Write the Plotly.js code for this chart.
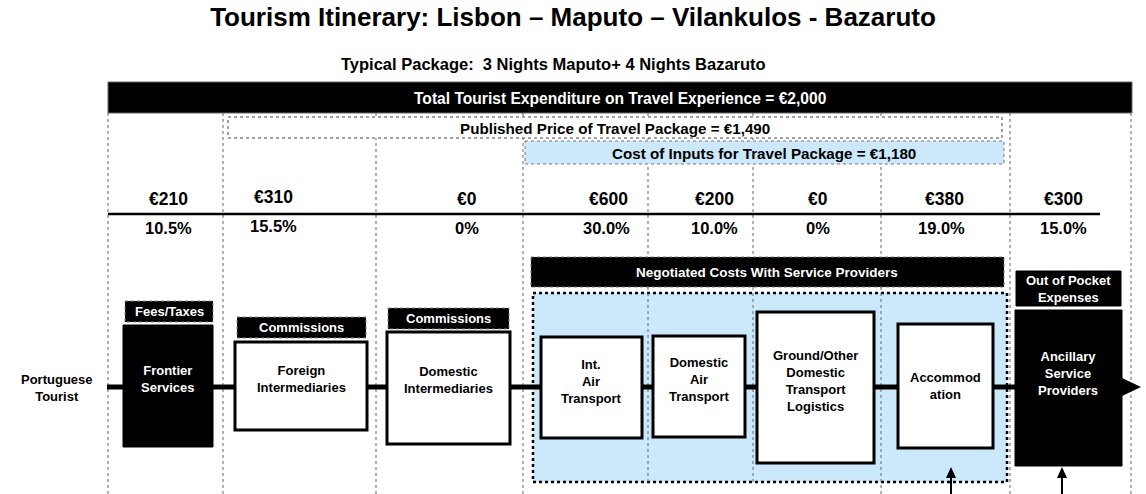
<!DOCTYPE html>
<html>
<head>
<meta charset="utf-8">
<script src="https://cdn.plot.ly/plotly-3.0.1.min.js"></script>
<style>html,body{margin:0;padding:0;background:#fff;}#chart{width:1146px;height:494px;}</style>
</head>
<body>
<div id="chart"></div>
<script>
// ---------------- DATA ----------------
const chartTitle = 'Tourism Itinerary: Lisbon \u2013 Maputo \u2013 Vilankulos - Bazaruto';
const subTitle = 'Typical Package:  3 Nights Maputo+ 4 Nights Bazaruto';
const origin = 'Portuguese<br>Tourist';
const stages = ['Frontier<br>Services', 'Foreign<br>Intermediaries', 'Domestic<br>Intermediaries',
  'Int.<br>Air<br>Transport', 'Domestic<br>Air<br>Transport',
  'Ground/Other<br>Domestic<br>Transport<br>Logistics', 'Accommod<br>ation',
  'Ancillary<br>Service<br>Providers'];
const amounts = [210, 310, 0, 600, 200, 0, 380, 300];
const shares = ['10.5%', '15.5%', '0%', '30.0%', '10.0%', '0%', '19.0%', '15.0%'];
const costTypes = ['Fees/Taxes', 'Commissions', 'Commissions', 'Out of Pocket<br>Expenses'];
const negotiatedLabel = 'Negotiated Costs With Service Providers';
const totalExpenditure = 2000;
const publishedPrice = 1490;
const inputCost = 1180;

// ---------------- LAYOUT GEOMETRY (pixels) ----------------
const W = 1146, H = 494;
const FONT = 'Liberation Sans, Arial, Helvetica, sans-serif';
const fmt = v => '\u20ac' + v.toLocaleString('en-US');

// stage boxes: x0,y0,x1,y1, dark?
const boxGeo = [
  [123, 325, 213, 447, true],
  [235, 342, 367, 430, false],
  [387, 332, 510, 444, false],
  [541, 337, 642, 438, false],
  [653, 336, 745, 437, false],
  [757, 312, 874, 463, false],
  [898, 324, 993, 448, false],
  [1015, 310, 1122, 466, true]
];
const boxTextY = [379, 379, 380, 381, 379, 381, 386, 373];
const boxTextX = [168, 301, 448, 591, 699, 815, 945, 1068];
const valueX = [168, 273, 467, 608, 714, 818, 944, 1063];
const valueY = [199, 197, 199, 199, 199, 199, 199, 199];
const shareX = [168, 273, 467, 606, 714, 818, 941, 1063];
const shareY = [228, 226, 228, 228, 228, 228, 228, 228];
// cost type label boxes (x0,y0,x1,y1)
const costGeo = [
  [125, 301, 213, 322],
  [237, 317, 366, 338],
  [388, 308, 509, 329],
  [1016, 271, 1121, 306]
];
const verticals = [[108,113,494],[223,113,494],[376,113,494],[523,113,494],[648,113,482],[753,113,482],[881,113,494],[1010,113,494],[1131,113,494]];

const shapes = [];
function rect(x0, y0, x1, y1, fill, lc, lw, dash) {
  shapes.push({type: 'rect', xref: 'x', yref: 'y', x0, y0, x1, y1,
    fillcolor: fill, line: {color: lc, width: lw, dash: dash || 'solid'}, layer: 'above'});
}
function line(x0, y0, x1, y1, c, w, dash) {
  shapes.push({type: 'line', xref: 'x', yref: 'y', x0, y0, x1, y1,
    line: {color: c, width: w, dash: dash || 'solid'}, layer: 'above'});
}
function path(p, fill) {
  shapes.push({type: 'path', xref: 'x', yref: 'y', path: p, fillcolor: fill, line: {color: fill, width: 0}, layer: 'above'});
}

// blue negotiated region
rect(533, 293, 1007, 482, '#cce9fb', '#000', 2.5, 'dot');
// verticals
verticals.forEach(v => line(v[0], v[1], v[0], v[2], '#666', 1, 'dot'));
// top black bar
rect(108, 82, 1132, 113, '#000', '#666', 1);
// published price box
rect(228, 117, 1002, 138, '#fff', '#444', 1, 'dot');
// cost of inputs box
rect(525, 141, 1004, 164, '#cce9fb', '#777', 1, 'dot');
// divider under values
line(108, 214, 1100, 214, '#000', 2.5);
// negotiated bar
rect(531, 257, 1004, 287, '#000', '#777', 1, 'dot');
// flow line + arrow
line(107, 387, 1124, 387, '#000', 5);
path('M 1122 378 L 1141 387 L 1122 396 Z', '#000');
// stage boxes
boxGeo.forEach(b => {
  if (b[4]) rect(b[0], b[1], b[2], b[3], '#000', '#000', 1);
  else rect(b[0], b[1], b[2], b[3], '#fff', '#000', 3);
});
// cost type labels
costGeo.forEach((c, i) => rect(c[0], c[1], c[2], c[3], '#000', i < 3 ? '#888' : '#000', 1, i < 3 ? 'dot' : 'solid'));
// upward arrows
[951, 1062].forEach(x => {
  line(x, 494, x, 476, '#000', 2);
  path(`M ${x-5} 478 L ${x} 467 L ${x+5} 478 Z`, '#000');
});

const ann = [];
function txt(x, y, text, size, color, xanchor) {
  ann.push({x, y, xref: 'x', yref: 'y', text, showarrow: false,
    xanchor: xanchor || 'center', yanchor: 'middle', align: 'center',
    font: {family: FONT, size, color: color || '#000', weight: 'bold'}});
}
txt(553, 64, subTitle, 16.5);
txt(620, 98, 'Total Tourist Expenditure on Travel Experience = ' + fmt(totalExpenditure), 15.6, '#fff');
txt(615, 128, 'Published Price of Travel Package = ' + fmt(publishedPrice), 15.2);
txt(764, 153, 'Cost of Inputs for Travel Package = ' + fmt(inputCost), 15.2);
amounts.forEach((a, i) => txt(valueX[i], valueY[i], fmt(a), 17.5));
shares.forEach((s, i) => txt(shareX[i], shareY[i], s, 16.5));
txt(57, 388, origin, 13);
stages.forEach((s, i) => txt(boxTextX[i], boxTextY[i], s, 13, boxGeo[i][4] ? '#fff' : '#000'));
const costTextPos = [[169, 311.5], [301, 327.5], [448, 318.5], [1068, 288.5]];
costTypes.forEach((c, i) => txt(costTextPos[i][0], costTextPos[i][1], c, 13, '#fff'));
txt(767, 272, negotiatedLabel, 13.5, '#fff');

const layout = {
  width: W, height: H,
  margin: {l: 0, r: 0, t: 0, b: 0, pad: 0},
  paper_bgcolor: '#fff', plot_bgcolor: '#fff',
  showlegend: false,
  title: {text: chartTitle, x: 0.5, xanchor: 'center', xref: 'paper', y: 1 - 17 / H, yref: 'container', yanchor: 'middle',
    font: {family: FONT, size: 26, color: '#000', weight: 'bold'}},
  xaxis: {range: [0, W], visible: false, fixedrange: true},
  yaxis: {range: [H, 0], visible: false, fixedrange: true},
  shapes, annotations: ann
};
Plotly.newPlot('chart', [{x: [0], y: [0], mode: 'markers', marker: {opacity: 0}, hoverinfo: 'skip', showlegend: false}], layout, {staticPlot: true, displayModeBar: false});
</script>
</body>
</html>
